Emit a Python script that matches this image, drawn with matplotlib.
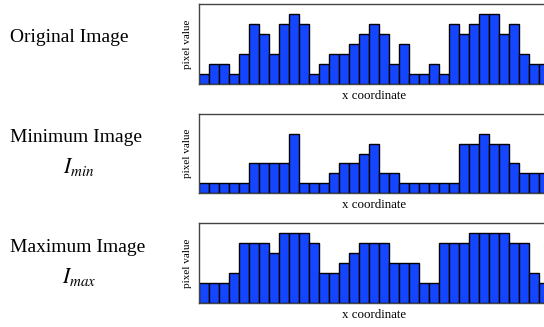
import numpy as np
import matplotlib.pyplot as plt

plt.rcParams['font.family'] = 'Liberation Serif'
plt.rcParams['mathtext.fontset'] = 'stix'

original = [1, 2, 2, 1, 3, 6, 5, 3, 6, 7, 6, 1, 2, 3, 3, 4, 5, 6, 5, 2, 4, 1, 1, 2, 1,
            6, 5, 6, 7, 7, 5, 6, 3, 2, 2]
minimum = [1, 1, 1, 1, 1, 3, 3, 3, 3, 6, 1, 1, 1, 2, 3, 3, 4, 5, 2, 2, 1, 1, 1, 1, 1,
           1, 5, 5, 6, 5, 5, 3, 2, 2, 2]
maximum = [2, 2, 2, 3, 6, 6, 6, 5, 7, 7, 7, 6, 3, 3, 4, 5, 6, 6, 6, 4, 4, 4, 2, 2, 6,
           6, 6, 7, 7, 7, 7, 6, 6, 3, 2]

titles = ['Original Image', 'Minimum Image', 'Maximum Image']
subs = [None, r'$I_{min}$', r'$I_{max}$']

W, H = 544, 327
fig = plt.figure(figsize=(W / 100, H / 100), dpi=100)

# axes tops / bottoms in pixels
tops = [4, 114, 223]
bottoms = [84, 193, 303]
title_y = [38, 138, 247]
sub_y = [None, 167, 277]

for k, vals in enumerate([original, minimum, maximum]):
    n = len(vals)
    left = 199
    width = n * 10
    ax = fig.add_axes([left / W, 1 - bottoms[k] / H, width / W, (bottoms[k] - tops[k]) / H])
    x = np.arange(n)
    ax.bar(x, vals, width=1.0, align='edge', color='#1446ff', edgecolor='black', linewidth=1.0)
    ax.set_xlim(0, n)
    ax.set_ylim(0, 8)
    ax.set_xticks([])
    ax.set_yticks([])
    for s in ['top', 'left', 'bottom']:
        ax.spines[s].set_color('#444444')
        ax.spines[s].set_linewidth(1.0)
    ax.spines['right'].set_visible(False)
    ax.set_xlabel('x coordinate', fontsize=9.3, labelpad=4)
    ax.set_ylabel('pixel value', fontsize=8, labelpad=5)

    fig.text(10 / W, 1 - title_y[k] / H, titles[k], fontsize=14, ha='left', va='center')
    if subs[k]:
        fig.text(79 / W, 1 - sub_y[k] / H, subs[k], fontsize=15.5, ha='center', va='center')

fig.savefig('out.png', dpi=100)
